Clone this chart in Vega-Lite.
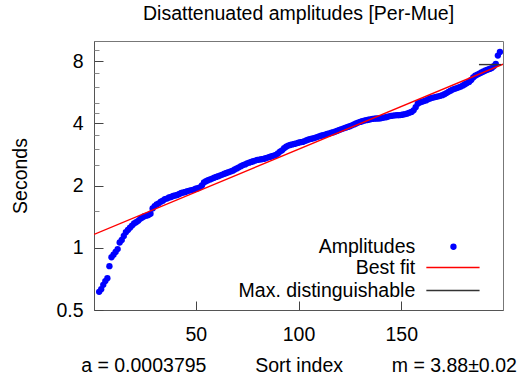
{
  "$schema": "https://vega.github.io/schema/vega-lite/v6.json",
  "autosize": {"type": "none"},
  "width": 409,
  "height": 269,
  "padding": {"left": 94, "top": 41, "right": 16, "bottom": 78},
  "background": "white",
  "config": {
    "font": "Liberation Sans",
    "view": {"stroke": "#777777", "strokeWidth": 1},
    "axis": {"labelFont": "Liberation Sans", "titleFont": "Liberation Sans", "labelFontSize": 19.5, "titleFontSize": 19.5, "labelColor": "#000000", "titleColor": "#000000", "titleFontWeight": "normal", "grid": false, "domainColor": "#555555", "tickColor": "#444444"}
  },
  "title": {"text": "Disattenuated amplitudes [Per-Mue]", "fontSize": 19.5, "fontWeight": "normal", "font": "Liberation Sans", "color": "#000000", "anchor": "middle", "baseline": "bottom", "frame": "group", "offset": -2},
  "datasets": {
    "amps": [
      {"i":3,"v":0.612},{"i":4,"v":0.630},{"i":5,"v":0.662},{"i":6,"v":0.690},{"i":7,"v":0.712},{"i":8,"v":0.815},{"i":9,"v":0.900},{"i":10,"v":0.925},
      {"i":11,"v":0.955},{"i":12,"v":0.985},{"i":13,"v":1.06},{"i":14,"v":1.09},{"i":15,"v":1.14},{"i":16,"v":1.19},{"i":17,"v":1.22},{"i":18,"v":1.25},
      {"i":19,"v":1.28},{"i":20,"v":1.31},{"i":21,"v":1.33},{"i":22,"v":1.35},{"i":23,"v":1.38},{"i":24,"v":1.40},{"i":25,"v":1.42},{"i":26,"v":1.43},
      {"i":27,"v":1.44},{"i":28,"v":1.46},{"i":29,"v":1.55},{"i":30,"v":1.59},{"i":31,"v":1.62},{"i":32,"v":1.64},{"i":33,"v":1.67},{"i":34,"v":1.69},
      {"i":35,"v":1.72},{"i":36,"v":1.73},{"i":37,"v":1.75},{"i":38,"v":1.76},{"i":39,"v":1.78},{"i":40,"v":1.79},{"i":41,"v":1.80},{"i":42,"v":1.82},
      {"i":43,"v":1.84},{"i":44,"v":1.85},{"i":45,"v":1.86},{"i":46,"v":1.88},{"i":47,"v":1.89},{"i":48,"v":1.90},{"i":49,"v":1.91},{"i":50,"v":1.93},
      {"i":51,"v":1.94},{"i":52,"v":1.96},{"i":53,"v":2.00},{"i":54,"v":2.07},{"i":55,"v":2.10},{"i":56,"v":2.12},{"i":57,"v":2.14},{"i":58,"v":2.16},
      {"i":59,"v":2.18},{"i":60,"v":2.20},{"i":61,"v":2.22},{"i":62,"v":2.24},{"i":63,"v":2.26},{"i":64,"v":2.28},{"i":65,"v":2.30},{"i":66,"v":2.32},
      {"i":67,"v":2.34},{"i":68,"v":2.36},{"i":69,"v":2.39},{"i":70,"v":2.42},{"i":71,"v":2.45},{"i":72,"v":2.48},{"i":73,"v":2.51},{"i":74,"v":2.53},
      {"i":75,"v":2.56},{"i":76,"v":2.58},{"i":77,"v":2.60},{"i":78,"v":2.62},{"i":79,"v":2.64},{"i":80,"v":2.66},{"i":81,"v":2.67},{"i":82,"v":2.68},
      {"i":83,"v":2.69},{"i":84,"v":2.71},{"i":85,"v":2.73},{"i":86,"v":2.75},{"i":87,"v":2.77},{"i":88,"v":2.79},{"i":89,"v":2.81},{"i":90,"v":2.86},
      {"i":91,"v":2.92},{"i":92,"v":2.96},{"i":93,"v":3.03},{"i":94,"v":3.08},{"i":95,"v":3.12},{"i":96,"v":3.14},{"i":97,"v":3.16},{"i":98,"v":3.18},
      {"i":99,"v":3.20},{"i":100,"v":3.22},{"i":101,"v":3.24},{"i":102,"v":3.25},{"i":103,"v":3.28},{"i":104,"v":3.31},{"i":105,"v":3.34},{"i":106,"v":3.36},
      {"i":107,"v":3.38},{"i":108,"v":3.40},{"i":109,"v":3.43},{"i":110,"v":3.46},{"i":111,"v":3.48},{"i":112,"v":3.50},{"i":113,"v":3.52},{"i":114,"v":3.55},
      {"i":115,"v":3.57},{"i":116,"v":3.60},{"i":117,"v":3.62},{"i":118,"v":3.65},{"i":119,"v":3.68},{"i":120,"v":3.72},{"i":121,"v":3.75},{"i":122,"v":3.78},
      {"i":123,"v":3.81},{"i":124,"v":3.84},{"i":125,"v":3.87},{"i":126,"v":3.91},{"i":127,"v":3.95},{"i":128,"v":3.99},{"i":129,"v":4.03},{"i":130,"v":4.06},
      {"i":131,"v":4.09},{"i":132,"v":4.12},{"i":133,"v":4.14},{"i":134,"v":4.16},{"i":135,"v":4.18},{"i":136,"v":4.20},{"i":137,"v":4.21},{"i":138,"v":4.22},
      {"i":139,"v":4.22},{"i":140,"v":4.23},{"i":141,"v":4.25},{"i":142,"v":4.27},{"i":143,"v":4.29},{"i":144,"v":4.32},{"i":145,"v":4.34},{"i":146,"v":4.36},
      {"i":147,"v":4.37},{"i":148,"v":4.38},{"i":149,"v":4.38},{"i":150,"v":4.39},{"i":151,"v":4.41},{"i":152,"v":4.43},{"i":153,"v":4.46},{"i":154,"v":4.50},
      {"i":155,"v":4.54},{"i":156,"v":4.62},{"i":157,"v":4.78},{"i":158,"v":4.97},{"i":159,"v":5.04},{"i":160,"v":5.08},{"i":161,"v":5.12},{"i":162,"v":5.16},
      {"i":163,"v":5.22},{"i":164,"v":5.27},{"i":165,"v":5.31},{"i":166,"v":5.34},{"i":167,"v":5.37},{"i":168,"v":5.40},{"i":169,"v":5.43},{"i":170,"v":5.47},
      {"i":171,"v":5.53},{"i":172,"v":5.60},{"i":173,"v":5.68},{"i":174,"v":5.75},{"i":175,"v":5.82},{"i":176,"v":5.87},{"i":177,"v":5.92},{"i":178,"v":5.97},
      {"i":179,"v":6.02},{"i":180,"v":6.10},{"i":181,"v":6.18},{"i":182,"v":6.26},{"i":183,"v":6.34},{"i":184,"v":6.48},{"i":185,"v":6.66},{"i":186,"v":6.80},
      {"i":187,"v":6.88},{"i":188,"v":6.96},{"i":189,"v":7.04},{"i":190,"v":7.12},{"i":191,"v":7.20},{"i":192,"v":7.27},{"i":193,"v":7.33},{"i":194,"v":7.40},
      {"i":195,"v":7.55},{"i":196,"v":7.75},{"i":197,"v":8.50},{"i":198,"v":8.85}
    ],
    "fit": [{"i": 0.5, "v": 1.16, "s": "fit"}, {"i": 199.5, "v": 7.72, "s": "fit"}],
    "maxd": [{"i": 187.8, "v": 7.69, "s": "max"}, {"i": 198.6, "v": 7.69, "s": "max"}],
    "legtext": [
      {"i": 156.8, "v": 1.011, "t": "Amplitudes"},
      {"i": 156.8, "v": 0.802, "t": "Best fit"},
      {"i": 156.8, "v": 0.621, "t": "Max. distinguishable"}
    ],
    "legdot": [{"i": 175.4, "v": 1.011}],
    "legfit": [{"i": 162.2, "v": 0.802}, {"i": 188.1, "v": 0.802}],
    "legmax": [{"i": 162.2, "v": 0.621}, {"i": 188.1, "v": 0.621}]
  },
  "resolve": {"axis": {"y": "independent", "x": "independent"}},
  "layer": [
    {
      "data": {"name": "amps"},
      "mark": {"type": "circle", "size": 40, "color": "#0000ff", "opacity": 1},
      "encoding": {
        "x": {"field": "i", "type": "quantitative", "scale": {"domain": [0.5, 199.5], "nice": false, "zero": false},
          "axis": {"orient": "bottom", "values": [50, 100, 150], "tickSize": -9, "labelPadding": 24, "domain": true,
            "title": "a = 0.0003795\u00a0\u00a0\u00a0\u00a0\u00a0\u00a0\u00a0\u00a0\u00a0Sort index\u00a0\u00a0\u00a0\u00a0\u00a0\u00a0\u00a0\u00a0\u00a0m = 3.88±0.02", "titlePadding": 13}},
        "y": {"field": "v", "type": "quantitative", "scale": {"type": "log", "domain": [0.5, 10], "nice": false, "zero": false},
          "axis": {"orient": "left", "values": [0.5, 1, 2, 4, 8], "tickSize": -9, "labelPadding": 20, "title": "Seconds", "titlePadding": 25, "labelFlush": false}}
      }
    },
    {
      "data": {"name": "fit"},
      "mark": {"type": "line", "color": "#ff0000", "strokeWidth": 1.4, "clip": true},
      "encoding": {
        "x": {"field": "i", "type": "quantitative", "axis": null},
        "y": {"field": "v", "type": "quantitative", "axis": {"orient": "left", "values": [1.5, 2.5, 3, 3.5, 4.5, 5, 6, 7, 9], "tickSize": -5, "labels": false, "domain": false, "title": null, "tickColor": "#888888"}}
      }
    },
    {
      "data": {"name": "maxd"},
      "mark": {"type": "line", "color": "#333333", "strokeWidth": 1.4},
      "encoding": {
        "x": {"field": "i", "type": "quantitative", "axis": null},
        "y": {"field": "v", "type": "quantitative", "axis": null}
      }
    },
    {
      "data": {"name": "legtext"},
      "mark": {"type": "text", "align": "right", "baseline": "middle", "fontSize": 19.5, "font": "Liberation Sans", "color": "#000000"},
      "encoding": {
        "x": {"field": "i", "type": "quantitative", "axis": null},
        "y": {"field": "v", "type": "quantitative", "axis": null},
        "text": {"field": "t"}
      }
    },
    {
      "data": {"name": "legdot"},
      "mark": {"type": "circle", "size": 40, "color": "#0000ff", "opacity": 1},
      "encoding": {
        "x": {"field": "i", "type": "quantitative", "axis": null},
        "y": {"field": "v", "type": "quantitative", "axis": null}
      }
    },
    {
      "data": {"name": "legfit"},
      "mark": {"type": "line", "color": "#ff0000", "strokeWidth": 1.4},
      "encoding": {
        "x": {"field": "i", "type": "quantitative", "axis": null},
        "y": {"field": "v", "type": "quantitative", "axis": null}
      }
    },
    {
      "data": {"name": "legmax"},
      "mark": {"type": "line", "color": "#333333", "strokeWidth": 1.4},
      "encoding": {
        "x": {"field": "i", "type": "quantitative", "axis": null},
        "y": {"field": "v", "type": "quantitative", "axis": null}
      }
    }
  ]
}
